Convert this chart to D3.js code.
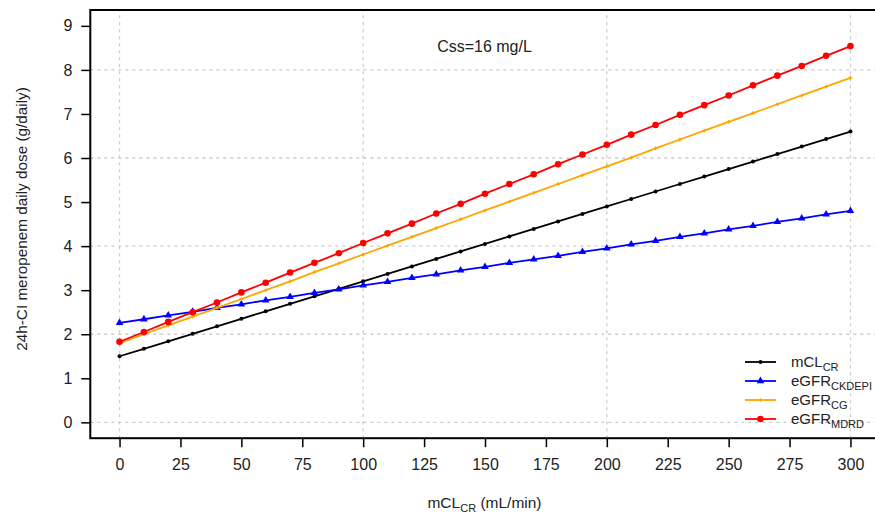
<!DOCTYPE html>
<html><head><meta charset="utf-8">
<script src="https://cdn.jsdelivr.net/npm/d3@7"></script>
<style>
body{margin:0;background:#fff;}
text{font-family:"Liberation Sans",Arial,sans-serif;}
</style></head>
<body><svg id="chart" width="875" height="515"></svg>
<script>
const xValues = [0,10,20,30,40,50,60,70,80,90,100,110,120,130,140,150,160,170,180,190,200,210,220,230,240,250,260,270,280,290,300];
const mclCR = [1.50,1.67,1.84,2.01,2.18,2.35,2.52,2.69,2.86,3.03,3.20,3.37,3.54,3.71,3.88,4.05,4.22,4.39,4.56,4.73,4.90,5.07,5.24,5.41,5.58,5.75,5.92,6.09,6.26,6.43,6.60];
const egfrCKDEPI = [2.26,2.34,2.43,2.51,2.60,2.68,2.77,2.85,2.94,3.02,3.11,3.19,3.28,3.36,3.45,3.53,3.62,3.70,3.78,3.87,3.95,4.04,4.12,4.21,4.29,4.38,4.46,4.55,4.63,4.72,4.80];
const egfrCG = [1.80,2.00,2.20,2.40,2.60,2.80,3.00,3.20,3.41,3.61,3.81,4.01,4.21,4.41,4.61,4.81,5.01,5.21,5.41,5.61,5.81,6.01,6.22,6.42,6.62,6.82,7.02,7.22,7.42,7.62,7.82];
const egfrMDRD = [1.83,2.05,2.28,2.50,2.72,2.95,3.17,3.40,3.62,3.84,4.07,4.29,4.51,4.74,4.96,5.19,5.41,5.63,5.86,6.08,6.30,6.53,6.75,6.98,7.20,7.42,7.65,7.87,8.09,8.32,8.54];
const xTicks = [0,25,50,75,100,125,150,175,200,225,250,275,300];
const yTicks = [0,1,2,3,4,5,6,7,8,9];
const xGrid = [0,100,200,300];
const yGrid = [0,2,4,6,8];
const seriesNames = ["mCL","eGFR","eGFR","eGFR"];
const seriesSubs = ["CR","CKDEPI","CG","MDRD"];

const series = [
  {main:seriesNames[0], sub:seriesSubs[0], values:mclCR, color:"#000000", marker:"circle", r:2},
  {main:seriesNames[1], sub:seriesSubs[1], values:egfrCKDEPI, color:"#0000ff", marker:"triangle", r:2.8},
  {main:seriesNames[2], sub:seriesSubs[2], values:egfrCG, color:"#ffa500", marker:"plus", r:1.8},
  {main:seriesNames[3], sub:seriesSubs[3], values:egfrMDRD, color:"#ff0000", marker:"circle", r:3.3}
];

const svg = d3.select("#chart");
const x = d3.scaleLinear().domain([-12,312]).range([90.3,879.7]);
const y = d3.scaleLinear().domain([-0.36,9.36]).range([438.2,10]);

// grid
const grid = svg.append("g").attr("stroke","#cccccc").attr("stroke-width",1.3).attr("stroke-dasharray","3,4");
grid.selectAll("line.v").data(xGrid).join("line").attr("class","v")
  .attr("x1",d=>x(d)).attr("x2",d=>x(d)).attr("y1",y(-0.36)).attr("y2",y(9.36));
grid.selectAll("line.h").data(yGrid).join("line").attr("class","h")
  .attr("x1",x(-12)).attr("x2",x(312)).attr("y1",d=>y(d)).attr("y2",d=>y(d));

// axes
const xAxis = svg.append("g").attr("transform",`translate(0,${y(-0.36)})`)
  .call(d3.axisBottom(x).tickValues(xTicks).tickSize(9).tickPadding(11).tickFormat(d3.format("d")));
const yAxis = svg.append("g").attr("transform",`translate(${x(-12)},0)`)
  .call(d3.axisLeft(y).tickValues(yTicks).tickSize(9).tickPadding(9).tickFormat(d3.format("d")));
[xAxis,yAxis].forEach(a=>{
  a.select(".domain").remove();
  a.selectAll(".tick line").attr("stroke","#000").attr("stroke-width",1.5);
  a.selectAll(".tick text").attr("font-size",16).attr("fill","#222").attr("font-family","Liberation Sans, Arial, sans-serif");
});

// box
svg.append("rect").attr("x",x(-12)).attr("y",y(9.36)).attr("width",x(312)-x(-12)).attr("height",y(-0.36)-y(9.36))
  .attr("fill","none").attr("stroke","#000").attr("stroke-width",2);

const line = d3.line().x((d,i)=>x(xValues[i])).y(d=>y(d));

function drawMarker(g, m, color, r){
  if(m==="circle"){
    g.append("circle").attr("r",r).attr("fill",color);
  } else if(m==="triangle"){
    g.append("path").attr("d",d3.symbol().type(d3.symbolTriangle).size(r*r*3.2)()).attr("fill",color);
  } else {
    g.append("path").attr("d",`M${-r},0H${r}M0,${-r}V${r}`).attr("stroke",color).attr("stroke-width",1.3);
  }
}

series.forEach(s=>{
  svg.append("path").datum(s.values).attr("d",line).attr("fill","none").attr("stroke",s.color).attr("stroke-width",1.8);
  s.values.forEach((v,i)=>{
    const g = svg.append("g").attr("transform",`translate(${x(xValues[i])},${y(v)})`);
    drawMarker(g, s.marker, s.color, s.r);
  });
});

// annotation
svg.append("text").attr("x",484.5).attr("y",52).attr("text-anchor","middle").attr("font-size",16).attr("fill","#222").text("Css=16 mg/L");

// legend
const legY = [362,381,400,419];
series.forEach((s,i)=>{
  const ly = legY[i];
  svg.append("line").attr("x1",745).attr("x2",776).attr("y1",ly).attr("y2",ly).attr("stroke",s.color).attr("stroke-width",1.8);
  const g = svg.append("g").attr("transform",`translate(760.5,${ly})`);
  drawMarker(g, s.marker, s.color, s.r);
  const t = svg.append("text").attr("x",791).attr("y",ly+5).attr("font-size",15).attr("fill","#222");
  t.append("tspan").text(s.main);
  t.append("tspan").attr("font-size",11).attr("dy",4).text(s.sub);
});

// axis titles
const xt = svg.append("text").attr("x",484.5).attr("y",508).attr("text-anchor","middle").attr("font-size",15.5).attr("fill","#222");
xt.append("tspan").text("mCL");
xt.append("tspan").attr("font-size",11).attr("dy",4).text("CR");
xt.append("tspan").attr("dy",-4).text(" (mL/min)");

svg.append("text").attr("transform","translate(27,219) rotate(-90)").attr("text-anchor","middle").attr("font-size",15.3).attr("fill","#222")
  .text("24h-CI meropenem daily dose (g/daily)");
</script></body></html>
